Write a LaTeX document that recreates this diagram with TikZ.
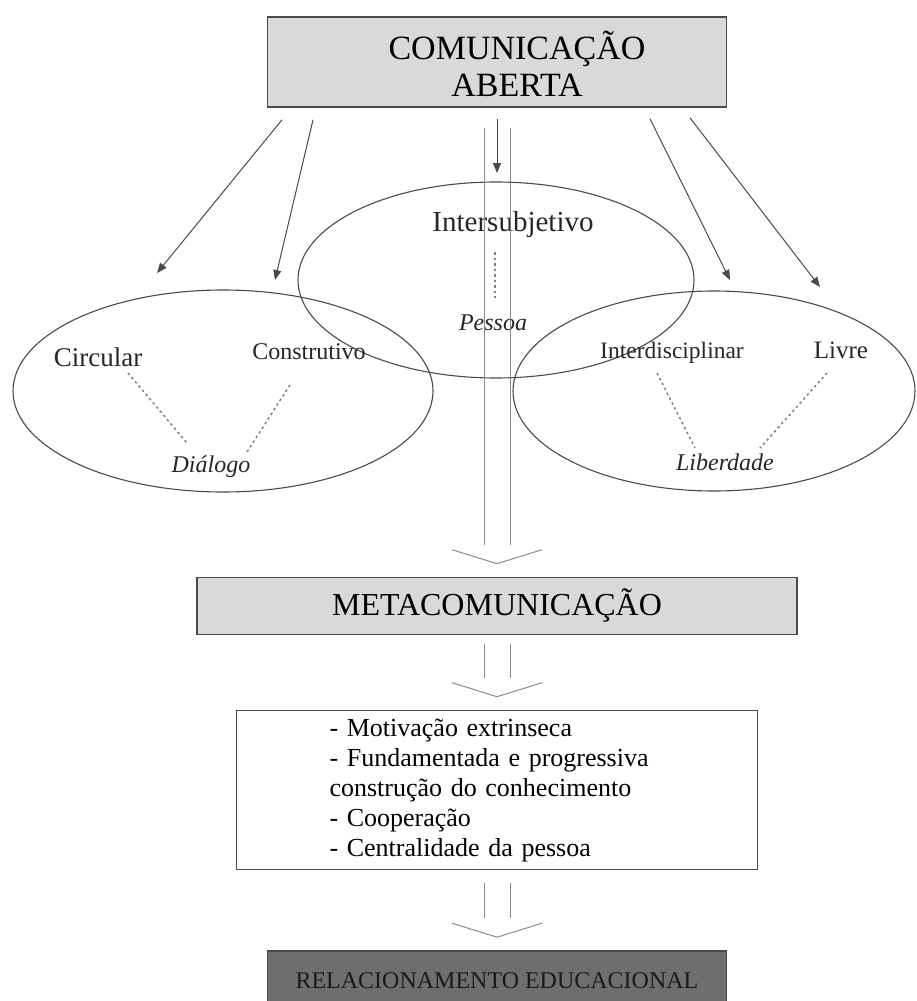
\documentclass[tikz,border=0pt]{standalone}
\usepackage{fontspec}
\setmainfont{Liberation Serif}
\usetikzlibrary{arrows.meta,shapes.geometric,calc}
\definecolor{boxgray}{HTML}{D9D9D9}
\definecolor{darkbox}{HTML}{6E6E6E}
\definecolor{linegray}{HTML}{4A4A4A}
\definecolor{hollowgray}{HTML}{8A8A8A}

\begin{document}
\begin{tikzpicture}[
  x=1pt, y=-1pt,
  >={Triangle[length=10pt,width=8pt]},
  titlebox/.style={draw=linegray, line width=1.6pt, fill=boxgray, align=center},
  oval/.style={draw=linegray, line width=1.1pt, ellipse, inner sep=0pt},
  word/.style={inner sep=0pt, text=black!85, font=\fontsize{24}{28}\selectfont},
  feed/.style={->, draw=linegray, line width=1pt},
  dots/.style={draw=gray, line width=1.5pt, dash pattern=on 2.5pt off 3pt},
  hollow/.style={draw=hollowgray, line width=1pt}
]
\useasboundingbox (0,0) rectangle (917,1001);

% Top: open communication
\node[titlebox, minimum width=459pt, minimum height=90pt] (open) at (497,62) {};
\node[align=center, inner sep=0pt, font=\fontsize{34}{37}\selectfont]
  (opentxt) at ($(open.center)+(20,2)$) {COMUNICAÇÃO\\ABERTA};

% Three fields
\node[oval, minimum width=420pt, minimum height=202pt] (left) at (223,391) {};
\node[oval, minimum width=396pt, minimum height=196pt] (mid) at (496,280) {};
\node[oval, minimum width=402pt, minimum height=200pt] (right) at (714,391) {};

\node[word, font=\fontsize{27}{31}\selectfont] (circ) at (98,357) {Circular};
\node[word] (constr) at (309,352) {Construtivo};
\node[word, font=\fontsize{24}{28}\selectfont\itshape] (dial) at (211,467) {Diálogo};

\node[word, font=\fontsize{29}{33}\selectfont] (inter) at (513,225) {Intersubjetivo};
\node[word, font=\fontsize{24}{28}\selectfont\itshape] (pess) at (493,323) {Pessoa};

\node[word, font=\fontsize{23.5}{27}\selectfont] (interd) at (672,353) {Interdisciplinar};
\node[word, font=\fontsize{25}{29}\selectfont] (livre) at (841,350) {Livre};
\node[word, font=\fontsize{24}{28}\selectfont\itshape] (lib) at (725,462) {Liberdade};

% Feeds from the top box
\coordinate (t1) at (157,273);
\coordinate (t2) at (275,280);
\coordinate (t3) at (497,173);
\coordinate (t4) at (730,280);
\coordinate (t5) at (820,287);
\draw[feed] ($(open.south)+(-215,12)$) -- (t1);
\draw[feed] ($(open.south)+(-184,12)$) -- (t2);
\draw[feed] ($(open.south)+(0,11)$) -- (t3);
\draw[feed] ($(open.south)+(153,11)$) -- (t4);
\draw[feed] ($(open.south)+(193,10)$) -- (t5);

% Dotted links
\draw[dots] ($(circ)+(30,16)$) -- ($(dial)+(-24,-24)$);
\draw[dots] ($(constr)+(-19,33)$) -- ($(dial)+(36,-15)$);
\draw[dots] ($(inter)+(-18,27)$) -- ($(pess)+(2,-25)$);
\draw[dots] ($(interd)+(-15,20)$) -- ($(lib)+(-30,-14)$);
\draw[dots] ($(livre)+(-14,23)$) -- ($(lib)+(35,-14)$);

% Lower chain
\node[titlebox, minimum width=600pt, minimum height=57pt,
  font=\fontsize{32}{36}\selectfont] (meta) at (497,606) {METACOMUNICAÇÃO};

\node[draw=linegray, line width=1.6pt, fill=white, align=left,
  text width=335pt, inner xsep=93pt, minimum height=159pt,
  font=\fontsize{26}{30}\selectfont] (list) at (497,790)
  {- Motivação extrinseca\\
   - Fundamentada e progressiva\\
   construção do conhecimento\\
   - Cooperação\\
   - Centralidade da pessoa};

\node[draw=linegray, line width=1.6pt, fill=darkbox, text=black!90,
  minimum width=459pt, minimum height=60pt,
  font=\fontsize{24}{28}\selectfont] (final) at (497,981)
  {RELACIONAMENTO EDUCACIONAL};

% Hollow arrows
\foreach \a/\b/\g in {open/meta/20, meta/list/9, list/final/13}{
  \draw[hollow] ($(\a.south)+(-13,\g)$) -- ($(\b.north)+(-13,-32)$);
  \draw[hollow] ($(\a.south)+(13,\g)$) -- ($(\b.north)+(13,-32)$);
  \draw[hollow] ($(\b.north)+(-45,-27)$) -- ($(\b.north)+(0,-13)$)
    -- ($(\b.north)+(45,-27)$);
}
\end{tikzpicture}
\end{document}
